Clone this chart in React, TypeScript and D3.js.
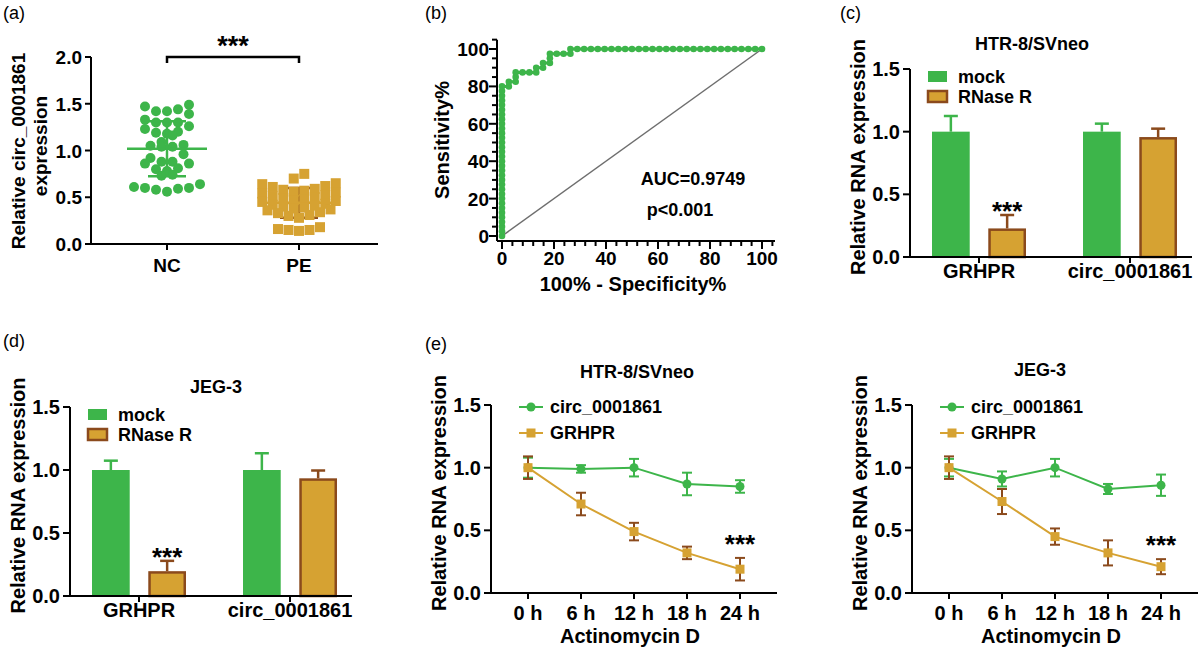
import React from "react";
import * as d3 from "d3";

const GREEN = "#3db54a";
const GOLD = "#d6a232";
const BROWN = "#8b4a1c";
const FONT = "'Liberation Sans', Arial, sans-serif";

// (a) scatter
const groupsA = ["NC", "PE"];
const ncValues = [
  1.49, 1.47, 1.44, 1.42, 1.42, 1.39,
  1.33, 1.3, 1.3, 1.3, 1.26,
  1.23, 1.2, 1.19, 1.18, 1.16,
  1.09, 1.06, 1.05, 1.04, 1.04,
  0.96, 0.92, 0.88, 0.88, 0.86, 0.86,
  0.81, 0.8, 0.78, 0.74, 0.73,
  0.64, 0.61, 0.6, 0.6, 0.59, 0.58, 0.56,
];
const peValues = [
  0.75, 0.7,
  0.65, 0.64, 0.62, 0.61, 0.59, 0.58, 0.57, 0.56,
  0.55, 0.54, 0.52, 0.51, 0.5, 0.49, 0.48, 0.47,
  0.46, 0.45, 0.43, 0.42, 0.41, 0.4, 0.39, 0.38,
  0.37, 0.36, 0.34, 0.33, 0.31, 0.3, 0.28,
  0.18, 0.16, 0.15, 0.15, 0.14,
];
const yTicksA = [0, 0.5, 1, 1.5, 2];

// (b) ROC (100% - specificity, sensitivity)
const rocPoints: [number, number][] = [
  [0, 0], [0, 2.5], [0, 5], [0, 7.5], [0, 10], [0, 12.5], [0, 15], [0, 17.5], [0, 20],
  [0, 22.5], [0, 25], [0, 27.5], [0, 30], [0, 32.5], [0, 35], [0, 37.5], [0, 40],
  [0, 42.5], [0, 45], [0, 47.5], [0, 50], [0, 52.5], [0, 55], [0, 57.5], [0, 60],
  [0, 62.5], [0, 65], [0, 67.5], [0, 70], [0, 72.5], [0, 75], [0, 77.5], [0, 80],
  [2.63, 80], [2.63, 82.5],
  [5.26, 82.5], [5.26, 85], [5.26, 87.5],
  [7.89, 87.5], [10.53, 87.5],
  [13.16, 87.5], [13.16, 90],
  [15.79, 90], [15.79, 92.5],
  [18.42, 92.5], [18.42, 95], [18.42, 97.5],
  [21.05, 97.5], [23.68, 97.5],
  [26.32, 97.5], [26.32, 100],
  [28.95, 100], [31.58, 100], [34.21, 100], [36.84, 100], [39.47, 100], [42.11, 100],
  [44.74, 100], [47.37, 100], [50, 100], [52.63, 100], [55.26, 100], [57.89, 100],
  [60.53, 100], [63.16, 100], [65.79, 100], [68.42, 100], [71.05, 100], [73.68, 100],
  [76.32, 100], [78.95, 100], [81.58, 100], [84.21, 100], [86.84, 100], [89.47, 100],
  [92.11, 100], [94.74, 100], [97.37, 100], [100, 100],
];
const rocRef: [number, number][] = [[0, 0], [100, 100]];
const rocLabels = [0, 20, 40, 60, 80, 100];

// (c), (d) bars
const barGenes = ["GRHPR", "circ_0001861"];
const barSeries = ["mock", "RNase R"];
const barYTicks = [0, 0.5, 1.0, 1.5];
const htrMock = [1.0, 1.0];
const htrMockErr = [0.125, 0.064];
const htrRnase = [0.228, 0.957];
const htrRnaseErr = [0.107, 0.067];
const jegMock = [1.0, 1.0];
const jegMockErr = [0.074, 0.133];
const jegRnase = [0.197, 0.934];
const jegRnaseErr = [0.082, 0.062];
const barStarGene = "GRHPR";

// (e) time course
const timeLabels = ["0 h", "6 h", "12 h", "18 h", "24 h"];
const lineSeries = ["circ_0001861", "GRHPR"];
const htrCirc = [1.0, 0.99, 1.0, 0.87, 0.85];
const htrCircErr = [0.08, 0.03, 0.07, 0.09, 0.05];
const htrGrhpr = [1.0, 0.71, 0.49, 0.32, 0.19];
const htrGrhprErr = [0.09, 0.09, 0.07, 0.05, 0.09];
const jegCirc = [1.0, 0.91, 1.0, 0.83, 0.86];
const jegCircErr = [0.07, 0.06, 0.07, 0.04, 0.085];
const jegGrhpr = [1.0, 0.73, 0.45, 0.32, 0.21];
const jegGrhprErr = [0.09, 0.1, 0.065, 0.1, 0.06];
const lineStarLabel = "24 h";

// rows of points, lowest value in the middle of each row (GraphPad look)
function swarm(values: number[], maxGap: number, maxPerRow: number, spacing: number) {
  const sorted = [...values].sort((a, b) => b - a);
  const rows: number[][] = [];
  let cur: number[] = [];
  for (const v of sorted) {
    if (cur.length && (cur[0] - v > maxGap || cur.length >= maxPerRow)) {
      rows.push(cur);
      cur = [];
    }
    cur.push(v);
  }
  if (cur.length) rows.push(cur);
  const out: { v: number; dx: number }[] = [];
  rows.forEach((row) => {
    const n = row.length;
    const slots = d3
      .range(n)
      .map((i) => (i - (n - 1) / 2) * spacing)
      .sort((a, b) => Math.abs(a) - Math.abs(b) || a - b);
    const asc = [...row].sort((a, b) => a - b);
    asc.forEach((v, i) => out.push({ v, dx: slots[i] }));
  });
  return out;
}

const bold = { fontWeight: "bold" as const };

const PanelA = () => {
  const y = d3.scaleLinear().domain([0, 2]).range([244, 57]);
  const x = d3.scalePoint<string>().domain(groupsA).range([167, 299]);
  const axX = 91, axY = 244, axEnd = 378;
  const nc = swarm(ncValues, 0.09, 7, 11);
  const pe = swarm(peValues, 0.095, 8, 10.5);
  const mNC = d3.mean(ncValues)!, sNC = d3.deviation(ncValues)!;
  const mPE = d3.mean(peValues)!, sPE = d3.deviation(peValues)!;
  const cNC = x("NC")!, cPE = x("PE")!;
  return (
    <g>
      <text x={3} y={19} fontSize={18}>(a)</text>
      {/* PE mean / sd under the squares */}
      <g stroke={BROWN} strokeWidth={2.5}>
        <line x1={cPE} x2={cPE} y1={y(mPE - sPE)} y2={y(mPE + sPE)} />
        <line x1={cPE - 19} x2={cPE + 19} y1={y(mPE - sPE)} y2={y(mPE - sPE)} />
        <line x1={cPE - 19} x2={cPE + 19} y1={y(mPE + sPE)} y2={y(mPE + sPE)} />
      </g>
      <line x1={cPE - 40} x2={cPE + 40} y1={y(mPE)} y2={y(mPE)} stroke={GOLD} strokeWidth={2.5} />
      {pe.map((d, i) => (
        <rect key={i} x={cPE + d.dx - 5} y={y(d.v) - 5} width={10} height={10} fill={GOLD} />
      ))}
      {nc.map((d, i) => (
        <circle key={i} cx={cNC + d.dx} cy={y(d.v)} r={5} fill={GREEN} />
      ))}
      <g stroke={GREEN} strokeWidth={2.5}>
        <line x1={cNC - 40} x2={cNC + 40} y1={y(mNC)} y2={y(mNC)} />
        <line x1={cNC} x2={cNC} y1={y(mNC - sNC)} y2={y(mNC + sNC)} />
        <line x1={cNC - 19} x2={cNC + 19} y1={y(mNC - sNC)} y2={y(mNC - sNC)} />
        <line x1={cNC - 19} x2={cNC + 19} y1={y(mNC + sNC)} y2={y(mNC + sNC)} />
      </g>
      {/* axes */}
      <g stroke="#000" strokeWidth={2}>
        <line x1={axX} x2={axX} y1={y(2)} y2={axY} />
        <line x1={axX} x2={axEnd} y1={axY} y2={axY} />
        {yTicksA.map((t) => (
          <line key={t} x1={axX - 6} x2={axX} y1={y(t)} y2={y(t)} />
        ))}
        {groupsA.map((g) => (
          <line key={g} x1={x(g)} x2={x(g)} y1={axY} y2={axY + 6} />
        ))}
      </g>
      {yTicksA.map((t) => (
        <text key={t} x={axX - 9} y={y(t) + 7} fontSize={19} textAnchor="end" {...bold}>
          {t.toFixed(1)}
        </text>
      ))}
      {groupsA.map((g) => (
        <text key={g} x={x(g)} y={272} fontSize={19} textAnchor="middle" {...bold}>
          {g}
        </text>
      ))}
      <text transform="translate(25,151) rotate(-90)" fontSize={19} textAnchor="middle" {...bold}>
        Relative circ_0001861
      </text>
      <text transform="translate(47,146) rotate(-90)" fontSize={19} textAnchor="middle" {...bold}>
        expression
      </text>
      <path d={`M${cNC},63V57H${cPE}V63`} fill="none" stroke="#000" strokeWidth={2.5} />
      <text x={(cNC + cPE) / 2} y={55} fontSize={27} textAnchor="middle" {...bold}>***</text>
    </g>
  );
};

const PanelB = () => {
  const x = d3.scaleLinear().domain([0, 100]).range([502, 762]);
  const y = d3.scaleLinear().domain([0, 100]).range([236, 49]);
  const ox = 497, oy = 241;
  const yTicks = d3.range(0, 106, 5);
  const xTicks = d3.range(0, 105, 4);
  const line = d3.line<[number, number]>().x((d) => x(d[0])).y((d) => y(d[1]));
  return (
    <g>
      <text x={425} y={19} fontSize={18}>(b)</text>
      <path d={line(rocRef)!} stroke="#6e6e6e" strokeWidth={1.5} fill="none" />
      <path d={line(rocPoints)!} stroke={GREEN} strokeWidth={3} fill="none" />
      {rocPoints.map((d, i) => (
        <circle key={i} cx={x(d[0])} cy={y(d[1])} r={3.3} fill={GREEN} />
      ))}
      <g stroke="#000" strokeWidth={2}>
        <line x1={ox} x2={ox} y1={y(105)} y2={oy} />
        <line x1={ox} x2={x(105)} y1={oy} y2={oy} />
        {yTicks.map((t) => (
          <line key={t} x1={ox - (t % 20 === 0 ? 8 : 5)} x2={ox} y1={y(t)} y2={y(t)} />
        ))}
        {xTicks.map((t) => (
          <line key={t} x1={x(t)} x2={x(t)} y1={oy} y2={oy + (t % 20 === 0 ? 8 : 5)} />
        ))}
      </g>
      {rocLabels.map((t) => (
        <text key={"y" + t} x={489} y={y(t) + 7} fontSize={19} textAnchor="end" {...bold}>{t}</text>
      ))}
      {rocLabels.map((t) => (
        <text key={"x" + t} x={x(t)} y={265} fontSize={19} textAnchor="middle" {...bold}>{t}</text>
      ))}
      <text transform="translate(449,140) rotate(-90)" fontSize={20} textAnchor="middle" {...bold}>
        Sensitivity%
      </text>
      <text x={633} y={291} fontSize={20} textAnchor="middle" {...bold}>100% - Specificity%</text>
      <text x={693} y={185} fontSize={18} textAnchor="middle" {...bold}>AUC=0.9749</text>
      <text x={680} y={216} fontSize={18} textAnchor="middle" {...bold}>p&lt;0.001</text>
    </g>
  );
};

type BarProps = {
  x0: number; y0: number; y15: number;
  title: string; titleX: number; titleY: number;
  mock: number[]; mockErr: number[]; rnase: number[]; rnaseErr: number[];
};

const BarPanel = (p: BarProps) => {
  const y = d3.scaleLinear().domain([0, 1.5]).range([p.y0, p.y15]);
  const xg = d3.scalePoint<string>().domain(barGenes).range([p.x0 + 69, p.x0 + 220]);
  const xs = d3.scaleBand<string>().domain(barSeries).range([-47, 47]).paddingInner(0.33);
  const bw = xs.bandwidth();
  const series = [
    { name: "mock", vals: p.mock, errs: p.mockErr, fill: GREEN, stroke: "none", err: GREEN },
    { name: "RNase R", vals: p.rnase, errs: p.rnaseErr, fill: GOLD, stroke: BROWN, err: BROWN },
  ];
  return (
    <g>
      {series.map((s) =>
        barGenes.map((g, i) => {
          const left = xg(g)! + xs(s.name)!;
          const cx = left + bw / 2;
          const top = y(s.vals[i]);
          const et = y(s.vals[i] + s.errs[i]);
          return (
            <g key={s.name + g}>
              <line x1={cx} x2={cx} y1={top} y2={et} stroke={s.err} strokeWidth={2.5} />
              <line x1={cx - 7} x2={cx + 7} y1={et} y2={et} stroke={s.err} strokeWidth={2.5} />
              <rect
                x={s.stroke === "none" ? left : left + 1.25}
                y={s.stroke === "none" ? top : top + 1.25}
                width={s.stroke === "none" ? bw : bw - 2.5}
                height={p.y0 - top - (s.stroke === "none" ? 0 : 1.25)}
                fill={s.fill}
                stroke={s.stroke}
                strokeWidth={2.5}
              />
              {s.name === "RNase R" && g === barStarGene && (
                <text x={cx} y={et + 5} fontSize={26} textAnchor="middle" {...bold}>***</text>
              )}
            </g>
          );
        })
      )}
      <g stroke="#000" strokeWidth={2}>
        <line x1={p.x0} x2={p.x0} y1={p.y15} y2={p.y0} />
        <line x1={p.x0} x2={p.x0 + 282} y1={p.y0} y2={p.y0} />
        {barYTicks.map((t) => (
          <line key={t} x1={p.x0 - 7} x2={p.x0} y1={y(t)} y2={y(t)} />
        ))}
        {barGenes.map((g) => (
          <line key={g} x1={xg(g)} x2={xg(g)} y1={p.y0} y2={p.y0 + 6} />
        ))}
      </g>
      {barYTicks.map((t) => (
        <text key={t} x={p.x0 - 10} y={y(t) + 7} fontSize={20} textAnchor="end" {...bold}>
          {t.toFixed(1)}
        </text>
      ))}
      {barGenes.map((g) => (
        <text key={g} x={xg(g)} y={p.y0 + 21} fontSize={20} textAnchor="middle" {...bold}>{g}</text>
      ))}
      {series.map((s, i) => (
        <g key={s.name}>
          <rect
            x={p.x0 + 18} y={p.y15 + 2 + i * 20} width={19} height={11}
            fill={s.fill} stroke={s.stroke} strokeWidth={2.5}
          />
          <text x={p.x0 + 48} y={p.y15 + 14 + i * 20} fontSize={18} {...bold}>{s.name}</text>
        </g>
      ))}
      <text x={p.titleX} y={p.titleY} fontSize={18} textAnchor="middle" {...bold}>{p.title}</text>
      <text
        transform={`translate(${p.x0 - 45},${(p.y0 + p.y15) / 2 - 6}) rotate(-90)`}
        fontSize={20} textAnchor="middle" {...bold}
      >
        Relative RNA expression
      </text>
    </g>
  );
};

type LineProps = {
  x0: number; y0: number; y15: number;
  title: string; titleX: number; titleY: number;
  circ: number[]; circErr: number[]; grhpr: number[]; grhprErr: number[];
};

const LinePanel = (p: LineProps) => {
  const y = d3.scaleLinear().domain([0, 1.5]).range([p.y0, p.y15]);
  const x = d3.scalePoint<string>().domain(timeLabels).range([p.x0 + 37, p.x0 + 249]);
  const line = d3.line<number>().x((_, i) => x(timeLabels[i])!).y((d) => y(d));
  const series = [
    { name: lineSeries[0], vals: p.circ, errs: p.circErr, color: GREEN, err: GREEN, shape: "circle" },
    { name: lineSeries[1], vals: p.grhpr, errs: p.grhprErr, color: GOLD, err: BROWN, shape: "square" },
  ];
  const marker = (shape: string, cx: number, cy: number, color: string) =>
    shape === "circle" ? (
      <circle cx={cx} cy={cy} r={4.5} fill={color} />
    ) : (
      <rect x={cx - 4.5} y={cy - 4.5} width={9} height={9} fill={color} />
    );
  return (
    <g>
      {series.map((s) => (
        <g key={s.name}>
          <path d={line(s.vals)!} fill="none" stroke={s.color} strokeWidth={2} />
          {s.vals.map((v, i) => {
            const cx = x(timeLabels[i])!;
            const lo = y(v - s.errs[i]);
            const hi = y(v + s.errs[i]);
            return (
              <g key={i}>
                <g stroke={s.err} strokeWidth={2}>
                  <line x1={cx} x2={cx} y1={lo} y2={hi} />
                  <line x1={cx - 5} x2={cx + 5} y1={lo} y2={lo} />
                  <line x1={cx - 5} x2={cx + 5} y1={hi} y2={hi} />
                </g>
                {marker(s.shape, cx, y(v), s.color)}
              </g>
            );
          })}
        </g>
      ))}
      {(() => {
        const i = timeLabels.indexOf(lineStarLabel);
        return (
          <text
            x={x(lineStarLabel)} y={y(p.grhpr[i] + p.grhprErr[i]) - 5}
            fontSize={26} textAnchor="middle" {...bold}
          >
            ***
          </text>
        );
      })()}
      <g stroke="#000" strokeWidth={2}>
        <line x1={p.x0} x2={p.x0} y1={p.y15} y2={p.y0} />
        <line x1={p.x0} x2={p.x0 + 286} y1={p.y0} y2={p.y0} />
        {barYTicks.map((t) => (
          <line key={t} x1={p.x0 - 7} x2={p.x0} y1={y(t)} y2={y(t)} />
        ))}
        {timeLabels.map((t) => (
          <line key={t} x1={x(t)} x2={x(t)} y1={p.y0} y2={p.y0 + 6} />
        ))}
      </g>
      {barYTicks.map((t) => (
        <text key={t} x={p.x0 - 10} y={y(t) + 7} fontSize={20} textAnchor="end" {...bold}>
          {t.toFixed(1)}
        </text>
      ))}
      {timeLabels.map((t) => (
        <text key={t} x={x(t)} y={p.y0 + 27} fontSize={20} textAnchor="middle" {...bold}>{t}</text>
      ))}
      <text x={p.x0 + 139} y={643} fontSize={20} textAnchor="middle" {...bold}>Actinomycin D</text>
      {series.map((s, i) => {
        const ly = p.y15 + 2 + i * 26;
        return (
          <g key={s.name}>
            <line x1={p.x0 + 28} x2={p.x0 + 52} y1={ly} y2={ly} stroke={s.color} strokeWidth={2} />
            {marker(s.shape, p.x0 + 40, ly, s.color)}
            <text x={p.x0 + 59} y={ly + 6} fontSize={18} {...bold}>{s.name}</text>
          </g>
        );
      })}
      <text x={p.titleX} y={p.titleY} fontSize={18} textAnchor="middle" {...bold}>{p.title}</text>
      <text
        transform={`translate(${p.x0 - 45},${(p.y0 + p.y15) / 2 - 6}) rotate(-90)`}
        fontSize={20} textAnchor="middle" {...bold}
      >
        Relative RNA expression
      </text>
    </g>
  );
};

export default function App() {
  return (
    <svg
      width={1200}
      height={650}
      viewBox="0 0 1200 650"
      style={{ position: "absolute", left: 0, top: 0, background: "#fff" }}
      fontFamily={FONT}
    >
      <rect width={1200} height={650} fill="#fff" />
      <PanelA />
      <PanelB />
      <text x={840} y={19} fontSize={18}>(c)</text>
      <BarPanel
        x0={910} y0={257} y15={69} title="HTR-8/SVneo" titleX={1032} titleY={50}
        mock={htrMock} mockErr={htrMockErr} rnase={htrRnase} rnaseErr={htrRnaseErr}
      />
      <text x={3} y={347} fontSize={18}>(d)</text>
      <BarPanel
        x0={70} y0={596} y15={407} title="JEG-3" titleX={216} titleY={393}
        mock={jegMock} mockErr={jegMockErr} rnase={jegRnase} rnaseErr={jegRnaseErr}
      />
      <text x={425} y={350} fontSize={18}>(e)</text>
      <LinePanel
        x0={491} y0={593} y15={405} title="HTR-8/SVneo" titleX={637} titleY={378}
        circ={htrCirc} circErr={htrCircErr} grhpr={htrGrhpr} grhprErr={htrGrhprErr}
      />
      <LinePanel
        x0={912} y0={593} y15={405} title="JEG-3" titleX={1040} titleY={376}
        circ={jegCirc} circErr={jegCircErr} grhpr={jegGrhpr} grhprErr={jegGrhprErr}
      />
    </svg>
  );
}
